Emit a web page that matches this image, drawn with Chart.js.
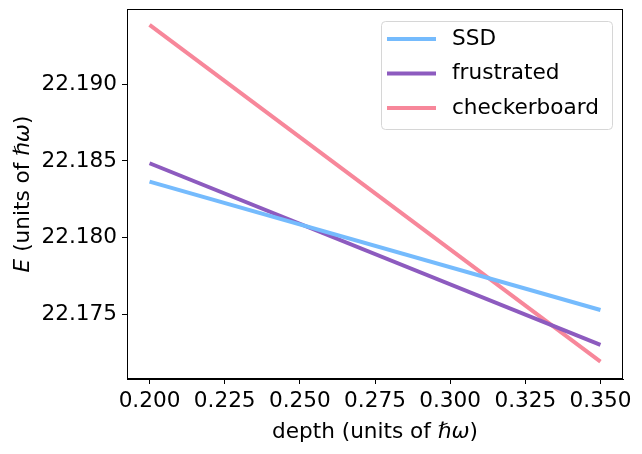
<!DOCTYPE html>
<html>
<head>
<meta charset="utf-8">
<script src="https://cdn.jsdelivr.net/npm/chart.js@4.4.1/dist/chart.umd.min.js"></script>
<style>
html,body{margin:0;padding:0;background:#fff;}
#wrap{width:642px;height:454px;position:relative;}
</style>
</head>
<body>
<div id="wrap"><canvas id="chart" width="642" height="454"></canvas></div>
<script>
// ================================
// Data
// ================================

const depth=[0.200,0.350];

const ssd=[22.18365,22.17528];

const frustrated=[22.18485,22.17300];

const checkerboard=[22.19387,22.17191];

const seriesNames=["SSD","frustrated","checkerboard"];

const seriesColors=["#75bbfd","#8d5bbf","#f7879a"];

const xTicks=[0.200,0.225,0.250,0.275,0.300,0.325,0.350];

const yTicks=[22.175,22.180,22.185,22.190];

const FONT="DejaVu Sans";
const FS=21.6;

function pts(ys){
    return depth.map(function(x,i){return {x:x,y:ys[i]};});
}

// ================================
// Frame, legend, axis titles
// ================================

const framePlugin={
    id:"frame",
    afterDraw:function(chart){
        const ctx=chart.ctx;
        const a=chart.chartArea;
        ctx.save();

        // box spines
        ctx.strokeStyle="#000";
        ctx.lineWidth=1;
        ctx.strokeRect(a.left+0.5,a.top+0.5,a.right-a.left-1,a.bottom-a.top-1);

        // legend
        const lx=a.right-242, ly=a.top+12, lw=231, lh=108;
        ctx.beginPath();
        ctx.roundRect(lx+0.5,ly+0.5,lw,lh,4);
        ctx.fillStyle="rgba(255,255,255,0.8)";
        ctx.fill();
        ctx.strokeStyle="#d6d6d6";
        ctx.stroke();
        ctx.font=FS+"px '"+FONT+"'";
        ctx.textBaseline="middle";
        ctx.textAlign="left";
        chart.data.datasets.forEach(function(ds,i){
            const ry=ly+18+i*34.5;
            ctx.beginPath();
            ctx.moveTo(lx+6,ry);
            ctx.lineTo(lx+55,ry);
            ctx.strokeStyle=ds.borderColor;
            ctx.lineWidth=4;
            ctx.stroke();
            ctx.fillStyle="#000";
            ctx.fillText(ds.label,lx+71,ry);
        });

        // x title
        ctx.fillStyle="#000";
        const xParts=[["depth (units of ",""],["ℏω","italic "],[")",""]];
        drawParts(ctx,xParts,(a.left+a.right)/2,432);

        // y title
        ctx.save();
        ctx.translate(23,(a.top+a.bottom)/2);
        ctx.rotate(-Math.PI/2);
        const yParts=[["E","italic "],[" (units of ",""],["ℏω","italic "],[")",""]];
        drawParts(ctx,yParts,0,0);
        ctx.restore();

        ctx.restore();
    }
};

function drawParts(ctx,parts,cx,cy){
    let total=0;
    parts.forEach(function(p){
        ctx.font=p[1]+FS+"px '"+FONT+"'";
        total+=ctx.measureText(p[0]).width;
    });
    let x=cx-total/2;
    ctx.textAlign="left";
    ctx.textBaseline="middle";
    parts.forEach(function(p){
        ctx.font=p[1]+FS+"px '"+FONT+"'";
        ctx.fillText(p[0],x,cy);
        x+=ctx.measureText(p[0]).width;
    });
}

// ================================
// Chart
// ================================

new Chart(document.getElementById("chart"),{
    type:"line",
    data:{
        datasets:[ssd,frustrated,checkerboard].map(function(ys,i){
            return {
                label:seriesNames[i],
                data:pts(ys),
                borderColor:seriesColors[i],
                backgroundColor:seriesColors[i],
                borderWidth:4,
                pointRadius:0,
                fill:false,
                tension:0
            };
        })
    },
    options:{
        responsive:false,
        animation:false,
        layout:{padding:{left:0,right:19,top:9,bottom:0}},
        plugins:{legend:{display:false},tooltip:{enabled:false}},
        scales:{
            x:{
                type:"linear",
                min:0.1925,
                max:0.3575,
                afterBuildTicks:function(s){s.ticks=xTicks.map(function(v){return {value:v};});},
                afterFit:function(s){s.height=75;s.paddingLeft=0;s.paddingRight=0;},
                grid:{display:true,drawOnChartArea:false,drawTicks:true,tickLength:5,color:"#000"},
                border:{display:true,color:"#000"},
                ticks:{
                    color:"#000",
                    padding:4,
                    maxRotation:0,
                    autoSkip:false,
                    font:{family:FONT,size:FS},
                    callback:function(v){return v.toFixed(3);}
                }
            },
            y:{
                type:"linear",
                min:22.17078,
                max:22.19491,
                afterBuildTicks:function(s){s.ticks=yTicks.map(function(v){return {value:v};});},
                afterFit:function(s){s.width=127;s.paddingTop=0;s.paddingBottom=0;},
                grid:{display:true,drawOnChartArea:false,drawTicks:true,tickLength:5,color:"#000"},
                border:{display:true,color:"#000"},
                ticks:{
                    color:"#000",
                    padding:5,
                    autoSkip:false,
                    font:{family:FONT,size:FS},
                    callback:function(v){return v.toFixed(3);}
                }
            }
        }
    },
    plugins:[framePlugin]
});
</script>
</body>
</html>
